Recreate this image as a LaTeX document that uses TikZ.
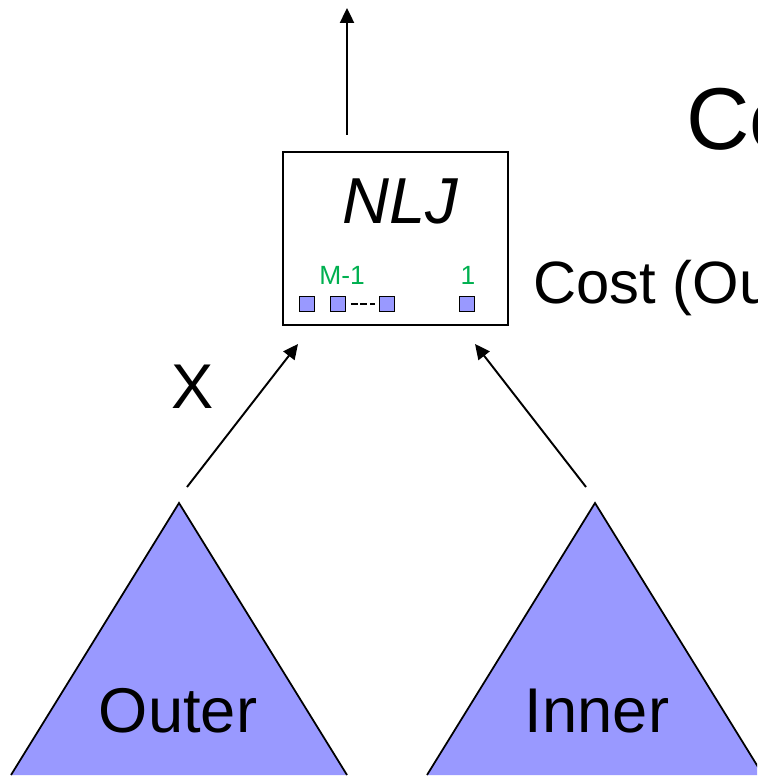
\documentclass[tikz,border=0pt]{standalone}
\usepackage{fontspec}
\setmainfont{Liberation Sans}
\usepackage{xcolor}
\usetikzlibrary{arrows.meta, positioning}

\definecolor{relblue}{RGB}{153,153,255}
\definecolor{idxgreen}{RGB}{0,176,80}

\begin{document}
\begin{tikzpicture}[
  x=0.02cm, y=-0.02cm,
  big/.style = {font=\fontsize{36}{40}\selectfont, inner sep=0, anchor=base},
  idx/.style = {font=\fontsize{15}{17}\selectfont, text=idxgreen, inner sep=0, anchor=base},
  page/.style = {draw, fill=relblue, minimum size=0.3cm, inner sep=0, line width=1pt},
  flow/.style = {-{Triangle[length=8.5pt, width=8pt]}, line width=1.1pt}
]
  \clip (0,0) rectangle (757,776);
  \useasboundingbox (0,0) rectangle (757,776);

  % join operator
  \node[draw, line width=1pt, minimum width=4.5cm, minimum height=3.46cm, inner sep=0] (nlj) at (395.5,238.5) {};
  \node[big, font=\fontsize{37}{40}\selectfont\itshape] (nljname) at (400,224) {NLJ};

  % buffer pages
  \foreach \x/\n in {307/p1, 338/p2, 387/p3, 467/p4}{
    \node[page] (\n) at (\x,304) {};
  }
  \draw[line width=0.9pt, dash pattern=on 4pt off 1.5pt, shorten <=2.5pt, shorten >=2pt] (p2.east) -- (p3.west);
  \node[idx] (mlbl) at (342,285) {M-1};
  \node[idx] (onelbl) at (468,285) {1};

  % inputs
  \coordinate (outtop) at (347,8);
  \coordinate (nljtop) at (347,135);
  \coordinate (outertip) at (187,487);
  \coordinate (innertip) at (586,487);
  \coordinate (nljleft) at (298,344);
  \coordinate (nljright) at (475,344);

  \fill[relblue] (179,503) -- (11,775) -- (347,775) -- cycle;
  \draw[line width=1pt] (11,775) -- (179,503) -- (347,775);
  \fill[relblue] (595,503) -- (427,775) -- (763,775) -- cycle;
  \draw[line width=1pt] (427,775) -- (595,503) -- (763,775);
  \node[big] (outer) at (178,732) {Outer};
  \node[big] (inner) at (597,732) {Inner};

  % arrows
  \draw[flow] (nljtop) -- (outtop);
  \draw[flow] (outertip) -- (nljleft);
  \draw[flow] (innertip) -- (nljright);

  % labels
  \node[big] (xlbl) at (193,408) {X};
  \node[big, anchor=base west, font=\fontsize{34}{40}\selectfont] (cost) at (533,303) {Cost (Ou};
  \node[big, anchor=base west, font=\fontsize{50}{56}\selectfont] (title) at (686,150) {Co};
\end{tikzpicture}
\end{document}
